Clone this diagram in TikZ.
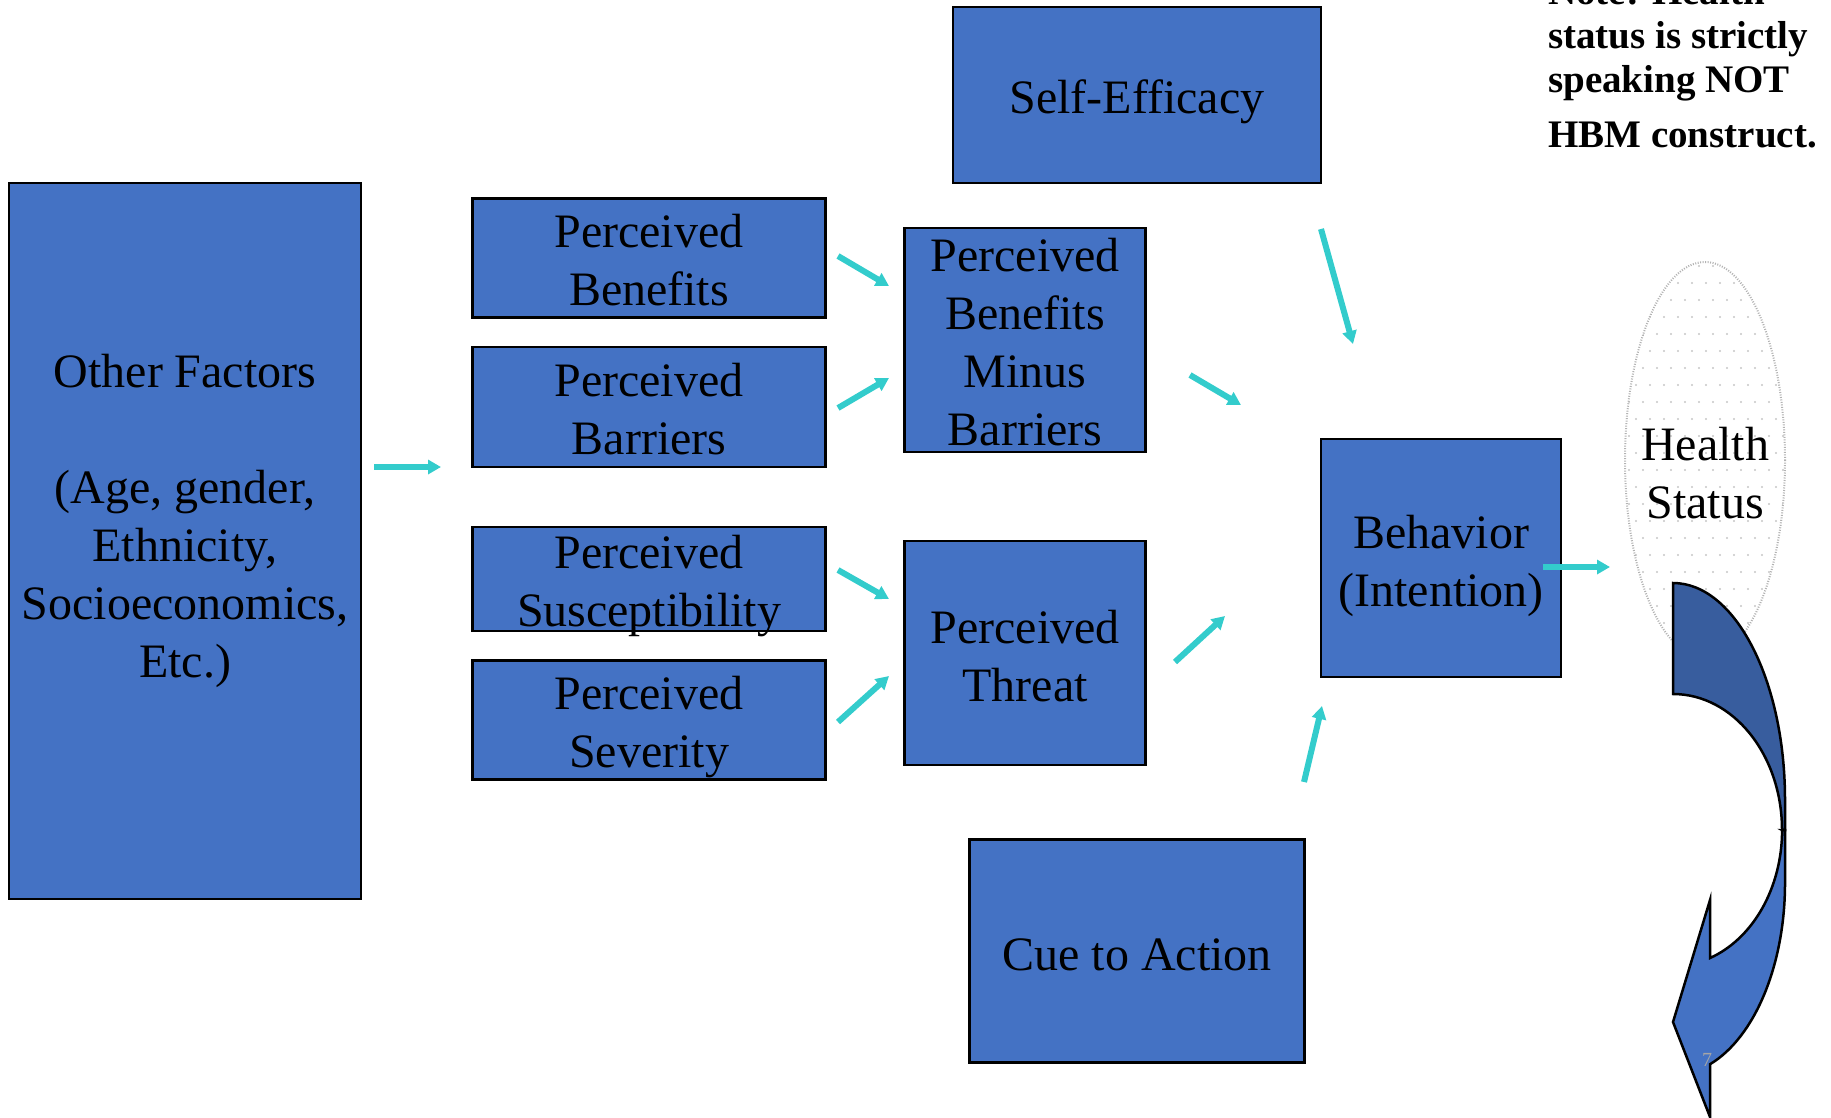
\documentclass[tikz,border=0pt]{standalone}
\usepackage{fontspec}
\setmainfont{Liberation Serif}
\usetikzlibrary{arrows.meta}

\definecolor{boxblue}{HTML}{4472C4}
\definecolor{backblue}{HTML}{385D9E}
\definecolor{flowcyan}{HTML}{33CCCC}

% taller first line, pushes a box text down a little
\newcommand{\topstrut}[1]{\rule{0pt}{#1}}

\begin{document}
\begin{tikzpicture}[
            x=1pt, y=-1pt,
            every node/.style={align=center, font=\fontsize{48}{58}\selectfont}
        ]

        % Define styles for nodes
        \tikzset{
            construct/.style={rectangle, draw=black, fill=boxblue, line width=2.5pt, inner sep=0pt},
            flow/.style={draw=flowcyan, line width=6pt, -{Triangle[length=13pt,width=14pt]}},
            bend arrow/.style={draw=black, line width=2.5pt, line join=miter},
            note/.style={font=\fontsize{39}{44}\selectfont\bfseries, align=left, anchor=base west, inner sep=0pt}
        }

        \useasboundingbox (0,0) rectangle (1831,1117);

        % Health status (behind the curved arrow)
        \begin{scope}
            \clip (1705,460) ellipse [x radius=80, y radius=198];
            \foreach \row in {0,...,23}
                \foreach \col in {0,...,11}
                    \fill[gray!45] ({1629+\col*14+mod(\row,2)*7}, {266+\row*17}) circle (1.2);
        \end{scope}
        \draw[gray!60, line width=2pt, dash pattern=on 1pt off 1.5pt] (1705,460) ellipse [x radius=80, y radius=198];
        \node (health) at (1705,473) {Health\\Status};

        % Curved arrow
        \filldraw[bend arrow, fill=backblue]
            (1673,583) arc[start angle=-90, end angle=0, x radius=112, y radius=217]
            -- (1785,830) -- (1782,830)
            arc[start angle=0, end angle=-90, x radius=109, y radius=136] -- cycle;
        \filldraw[bend arrow, fill=boxblue]
            (1782,830) -- (1785,830) -- (1785,883)
            arc[start angle=0, end angle=70.7, x radius=112, y radius=192]
            -- (1710,1117) -- (1673,1022) -- (1710,900) -- (1710,958)
            arc[start angle=70.2, end angle=0, x radius=109, y radius=136] -- cycle;
        \node[font=\fontsize{20}{24}\selectfont, text=gray!70] (pagenum) at (1707,1060) {7};

        % Constructs
        \node[construct, minimum width=352pt, minimum height=716pt] (other) at (185,541) {};
        \node (otherlbl) at ([yshift=20pt]other.center) {Other Factors\\[58pt](Age, gender,\\Ethnicity,\\Socioeconomics,\\Etc.)};

        \node[construct, minimum width=353pt, minimum height=119pt] (ben) at (649,258) {\topstrut{37pt}Perceived\\Benefits};
        \node[construct, minimum width=353pt, minimum height=120pt] (bar) at (649,407) {\topstrut{38pt}Perceived\\Barriers};
        \node[construct, minimum width=353pt, minimum height=104pt] (sus) at (649,579) {\topstrut{37pt}Perceived\\\raisebox{0pt}[\height][0pt]{Susceptibility}};
        \node[construct, minimum width=353pt, minimum height=119pt] (sev) at (649,720) {\topstrut{48pt}Perceived\\Severity};

        \node[construct, minimum width=241pt, minimum height=224pt] (pbmb) at (1025,340) {\topstrut{37pt}Perceived\\Benefits\\Minus\\Barriers};
        \node[construct, minimum width=241pt, minimum height=224pt] (threat) at (1025,653) {\topstrut{39pt}Perceived\\Threat};

        \node[construct, minimum width=368pt, minimum height=176pt] (efficacy) at (1137,95) {\topstrut{47pt}Self-Efficacy};
        \node[construct, minimum width=335pt, minimum height=223pt] (cue) at (1137,951) {\topstrut{40pt}Cue to Action};
        \node[construct, minimum width=240pt, minimum height=238pt] (behavior) at (1441,558) {\topstrut{49pt}Behavior\\(Intention)};

        % Note
        \node[note] (note) at (1548,147) {Note: Health\\status is strictly\\speaking NOT\\[11pt]HBM construct.};

        % Arrow ends
        \coordinate (other-tail) at (374,467);   \coordinate (other-head) at (441,467);
        \coordinate (ben-tail) at (838,256);     \coordinate (ben-head) at (889,286);
        \coordinate (bar-tail) at (838,408);     \coordinate (bar-head) at (889,378);
        \coordinate (sus-tail) at (838,570);     \coordinate (sus-head) at (889,599);
        \coordinate (sev-tail) at (838,722);     \coordinate (sev-head) at (889,676);
        \coordinate (pbmb-tail) at (1190,375);   \coordinate (pbmb-head) at (1241,405);
        \coordinate (threat-tail) at (1175,662); \coordinate (threat-head) at (1225,616);
        \coordinate (eff-tail) at (1321,229);    \coordinate (eff-head) at (1353,344);
        \coordinate (cue-tail) at (1304,782);    \coordinate (cue-head) at (1322,706);
        \coordinate (beh-tail) at (1543,567);    \coordinate (beh-head) at (1610,567);

        % Arrows
        \draw[flow] (other-tail) -- (other-head);
        \draw[flow] (ben-tail) -- (ben-head);
        \draw[flow] (bar-tail) -- (bar-head);
        \draw[flow] (sus-tail) -- (sus-head);
        \draw[flow] (sev-tail) -- (sev-head);
        \draw[flow] (pbmb-tail) -- (pbmb-head);
        \draw[flow] (threat-tail) -- (threat-head);
        \draw[flow] (eff-tail) -- (eff-head);
        \draw[flow] (cue-tail) -- (cue-head);
        \draw[flow] (beh-tail) -- (beh-head);

        \end{tikzpicture}
\end{document}
